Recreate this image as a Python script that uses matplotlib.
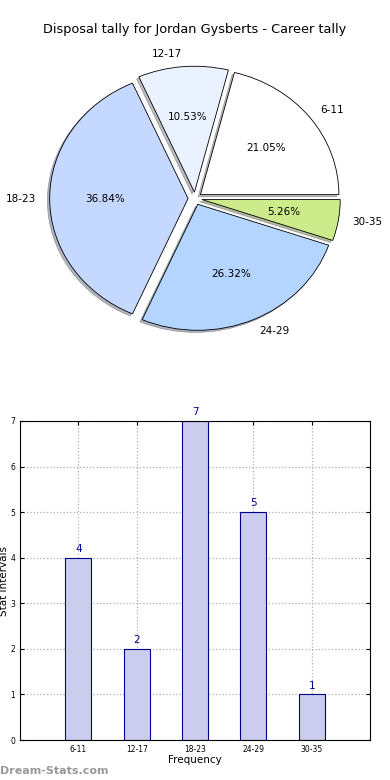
import matplotlib
matplotlib.use('Agg')
from matplotlib import pyplot as plt
import numpy as np

# disposal tally data
intervals = ['6-11', '12-17', '18-23', '24-29', '30-35']
counts = [4, 2, 7, 5, 1]
pie_colors = ['#ffffff', '#eaf1ff', '#c5d8ff', '#b3d5ff', '#cdeb8b']

fig = plt.figure(figsize=(3.9, 7.8), dpi=100)

fig.text(0.5, 1 - 30 / 780., 'Disposal tally for Jordan Gysberts - Career tally',
         ha='center', va='center', fontsize=9.3)

# pie on top (old style, not forced circular)
ax1 = fig.add_axes([22 / 390., 424 / 780., 346 / 390., 315 / 780.])
wedges, texts, autotexts = ax1.pie(counts, labels=intervals, colors=pie_colors,
                                   explode=[0.05] * len(counts), autopct='%.2f%%',
                                   shadow={'ox': -0.012, 'oy': -0.012, 'shade': 0.5,
                                           'edgecolor': '#555555', 'linewidth': 0.5},
                                   startangle=0,
                                   wedgeprops={'edgecolor': 'black', 'linewidth': 0.6},
                                   textprops={'fontsize': 7.5})
ax1.set_aspect('auto')
ax1.set_xlim(-1.25, 1.25)
ax1.set_ylim(-1.25, 1.25)

# bar chart below
ax2 = fig.add_axes([20 / 390., 40 / 780., 350 / 390., 319 / 780.])
x = np.arange(1, len(counts) + 1)
ax2.bar(x, counts, width=0.45, color='#ccccee', edgecolor='#00008b', linewidth=0.8,
        zorder=2)
for xi, c in zip(x, counts):
    ax2.text(xi, c + 0.08, str(c), ha='center', va='bottom', color='#00008b', fontsize=7.5)
ax2.set_xlim(0, 6)
ax2.set_ylim(0, 7)
ax2.set_xticks(x)
ax2.set_xticklabels(intervals)
ax2.tick_params(labelsize=5.5, length=3, direction='in', top=True, right=True)
ax2.grid(True, linestyle=':', color='#b0b0b0', linewidth=0.9, zorder=0)
ax2.set_axisbelow(True)
ax2.set_xlabel('Frequency', fontsize=7.5, labelpad=1)
ax2.set_ylabel('Stat Intervals', fontsize=7.5)
ax2.yaxis.set_label_coords(-0.031, 0.5)

fig.text(0.0, 1 - 771 / 780., 'Dream-Stats.com', ha='left', va='center',
         fontsize=8, color='#999999', fontweight='bold')

plt.savefig('out.png', dpi=100)
